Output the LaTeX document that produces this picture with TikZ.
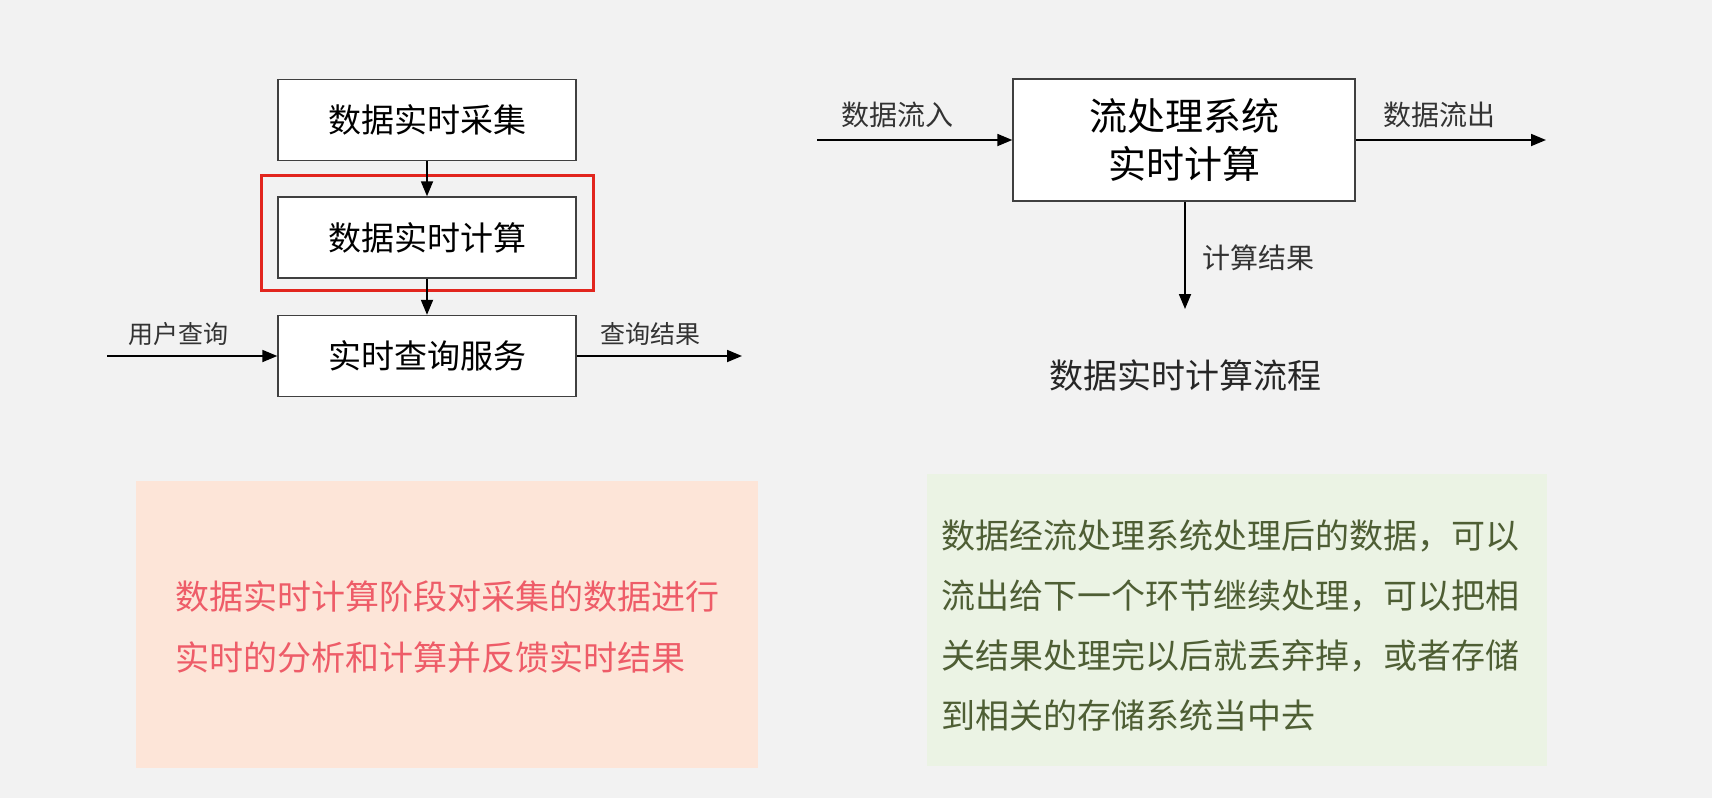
\documentclass[tikz,border=0pt]{standalone}
\usepackage{fontspec}
\newfontfamily\cjk{Noto Sans CJK SC}
\usepackage{tikz}
\usetikzlibrary{arrows.meta,positioning,calc}
\definecolor{pageGray}{RGB}{242,242,242}
\definecolor{markRed}{RGB}{226,38,30}
\definecolor{pinkFill}{RGB}{253,229,216}
\definecolor{pinkText}{RGB}{238,92,104}
\definecolor{greenFill}{RGB}{235,243,228}
\definecolor{greenText}{RGB}{78,94,52}

\begin{document}
\begin{tikzpicture}[x=1pt,y=-1pt,
    stage/.style={draw=black!75,line width=1.4pt,fill=white,minimum width=298pt,
      minimum height=81pt,inner sep=0pt,font=\cjk\fontsize{33}{40}\selectfont},
    flow/.style={line width=1.8pt,-{Triangle[length=15pt,width=12pt]}},
    lbl/.style={font=\cjk\fontsize{25}{30}\selectfont,text=black!80},
    bigl/.style={font=\cjk\fontsize{28}{32}\selectfont,text=black!80},
    note/.style={align=left,inner sep=0pt,anchor=west,font=\cjk\fontsize{34}{60.3}\selectfont}]
  \useasboundingbox[fill=pageGray] (0,0) rectangle (1712,798);
  % left: collect, compute, query
  \node[stage] (collect) at (427,120) {数据实时采集};
  \node[stage] (compute) at (427,237.5) {数据实时计算};
  \node[stage] (query) at (427,356) {实时查询服务};
  \draw[markRed,line width=3pt]
    ($(compute.north west)+(-16,-21)$) rectangle ($(compute.south east)+(17,12)$);
  \draw[flow] (collect) -- (compute);
  \draw[flow] (compute) -- (query);
  \coordinate (userin) at (107,356);
  \coordinate (qout) at (742,356);
  \draw[flow] (userin) -- (query.west);
  \draw[flow] (query.east) -- (qout);
  \node[lbl] (userq) at (178,334) {用户查询};
  \node[lbl] (queryres) at (650,334) {查询结果};
  % right: stream system
  \node[stage,minimum width=342pt,minimum height=122pt,align=center,
    font=\cjk\fontsize{38}{48}\selectfont] (stream) at (1184,140) {流处理系统\\实时计算};
  \coordinate (sin) at (817,140);
  \coordinate (sout) at (1546,140);
  \coordinate (sres) at (1185,309);
  \draw[flow] (sin) -- (stream.west);
  \draw[flow] (stream.east) -- (sout);
  \draw[flow] (stream.south -| sres) -- (sres);
  \node[bigl] (dataIn) at (897,115) {数据流入};
  \node[bigl] (dataOut) at (1439,115) {数据流出};
  \node[bigl,anchor=west] (calcRes) at (1199,258) {计算结果};
  \node[font=\cjk\fontsize{34}{40}\selectfont,text=black!85] (caption) at (1185,376) {数据实时计算流程};
  % bottom notes
  \fill[pinkFill] (136,481) rectangle (758,768);
  \fill[greenFill] (927,474) rectangle (1547,766);
  \node[note,text=pinkText] (pinkNote) at (175,627)
    {数据实时计算阶段对采集的数据进行\\实时的分析和计算并反馈实时结果};
  \node[note,text=greenText] (greenNote) at (941,625.5)
    {数据经流处理系统处理后的数据，可以\\流出给下一个环节继续处理，可以把相\\关结果处理完以后就丢弃掉，或者存储\\到相关的存储系统当中去};
\end{tikzpicture}
\end{document}
